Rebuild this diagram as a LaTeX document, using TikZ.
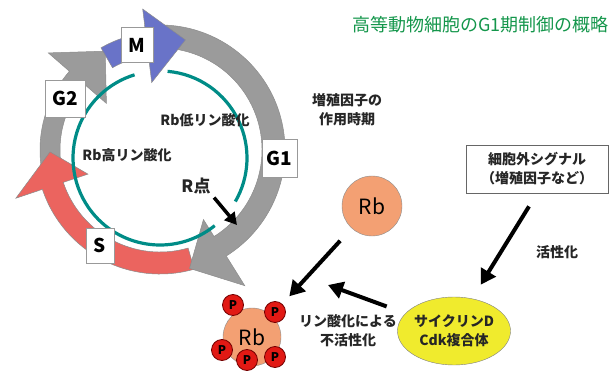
\documentclass[tikz,border=0pt]{standalone}
\usepackage{fontspec}
\setmainfont{Noto Sans CJK JP}
\usetikzlibrary{arrows.meta,shapes.geometric}

\definecolor{ringgray}{RGB}{155,155,155}
\definecolor{mblue}{RGB}{105,115,200}
\definecolor{sred}{RGB}{235,100,95}
\definecolor{cycleteal}{RGB}{0,140,135}
\definecolor{rborange}{RGB}{243,160,115}
\definecolor{pred}{RGB}{225,25,20}
\definecolor{cycyellow}{RGB}{240,235,45}
\definecolor{titlegreen}{RGB}{20,150,75}

\tikzset{
	phase/.style={fill=#1, draw=black!45, line width=0.5pt},
	phasebox/.style={draw=black!40, fill=white, line width=0.8pt, inner sep=0pt, font=\bfseries\fontsize{19}{19}\selectfont},
	note/.style={font=\bfseries\fontsize{14}{19}\selectfont, align=center, text=black!85},
	bigarrow/.style={line width=4pt, -{Triangle[length=15pt,width=17pt]}},
	phos/.style={circle, fill=pred, draw=red!45!black, line width=0.8pt, minimum size=21pt, inner sep=0pt, font=\bfseries\fontsize{12}{12}\selectfont}
}

\newcommand{\cyclearc}[9]{%
	\filldraw [#1] (#2:#6) arc[start angle=#2, end angle=#3, radius=#6] -- (#3:#8) -- (#4:#9) -- (#3:#7) -- (#3:#5) arc[start angle=#3, end angle=#2, radius=#5] -- cycle;}

\begin{document}
\begin{tikzpicture}[x=1pt,y=1pt]
	\useasboundingbox (0,0) rectangle (612,375);

	\begin{scope}[shift={(160,225)}]
		\cyclearc{phase=ringgray}{198}{139}{119}{100}{120}{71}{148}{113}
		\cyclearc{phase=sred}{286}{198.5}{181}{102}{124}{76}{152}{110}
		\cyclearc{phase=ringgray}{97}{-58}{-76}{102}{125}{82}{160}{122}
		\cyclearc{phase=mblue}{120}{97}{77}{95}{118}{68}{142}{113}
	\end{scope}

	\draw [cycleteal, line width=3.2pt] (160,217) ++(85:87) arc[start angle=85, end angle=-30, radius=87];
	\draw [cycleteal, line width=3.2pt] (160,217) ++(-51:87) arc[start angle=-51, end angle=-253, radius=87];

	\node (mbox) [phasebox, minimum width=32pt, minimum height=35pt] at (137,330) {M};
	\node (gtwobox) [phasebox, minimum width=40pt, minimum height=37pt] at (65,276.5) {G2};
	\node (gonebox) [phasebox, minimum width=35pt, minimum height=38pt] at (279.5,217) {G1};
	\node (sbox) [phasebox, minimum width=28pt, minimum height=35pt] at (100,129.5) {S};

	\node (lowp) [note] at (205,255) {Rb低リン酸化};
	\node (highp) [note] at (127,220) {Rb高リン酸化};
	\node (rlabel) [note, font=\bfseries\fontsize{17}{17}\selectfont] at (196,189) {R点};
	\coordinate (rpt) at (237,150);
	\draw [line width=3.5pt, -{Triangle[length=12pt,width=13pt]}] (rlabel.south east) -- (rpt);

	\node (title) [anchor=east, text=titlegreen, font=\fontsize{18}{18}\selectfont] at (612,350) {高等動物細胞のG1期制御の概略};
	\node (gftime) [note] at (347,265) {増殖因子の\\作用時期};
	\node (signal) [note, draw=black!60, line width=0.8pt, minimum width=142pt, minimum height=48pt] at (537,206) {細胞外シグナル\\（増殖因子など）};
	\node (rb) [circle, fill=rborange, draw=black!45, minimum size=60pt, inner sep=0pt, font=\fontsize{21}{21}\selectfont] at (372,169) {Rb};
	\node (act) [note] at (557,123) {活性化};
	\node (cycd) [ellipse, note, fill=cycyellow, draw=black!50, minimum width=112pt, minimum height=68pt, inner sep=0pt] at (454,44) {サイクリンD\\Cdk複合体};
	\node (inact) [note] at (348,44) {リン酸化による\\不活性化};
	\node (prb) [circle, fill=rborange, draw=black!45, minimum size=58pt, inner sep=0pt, font=\fontsize{21}{21}\selectfont] at (252,38) {Rb};
	\foreach \px/\py [count=\i] in {233/70, 275/63, 222/25, 247/15, 275/18}
		\node (p\i) [phos] at (\px,\py) {P};

	\coordinate (phosend) at (328,90);
	\draw [bigarrow, shorten <=17pt, shorten >=26pt] (rb) -- (prb);
	\draw [bigarrow] ([shift={(-8,-13)}]signal.south) -- ([shift={(8,14)}]cycd.60);
	\draw [bigarrow, shorten <=20pt] (cycd.160) -- (phosend);
\end{tikzpicture}
\end{document}
